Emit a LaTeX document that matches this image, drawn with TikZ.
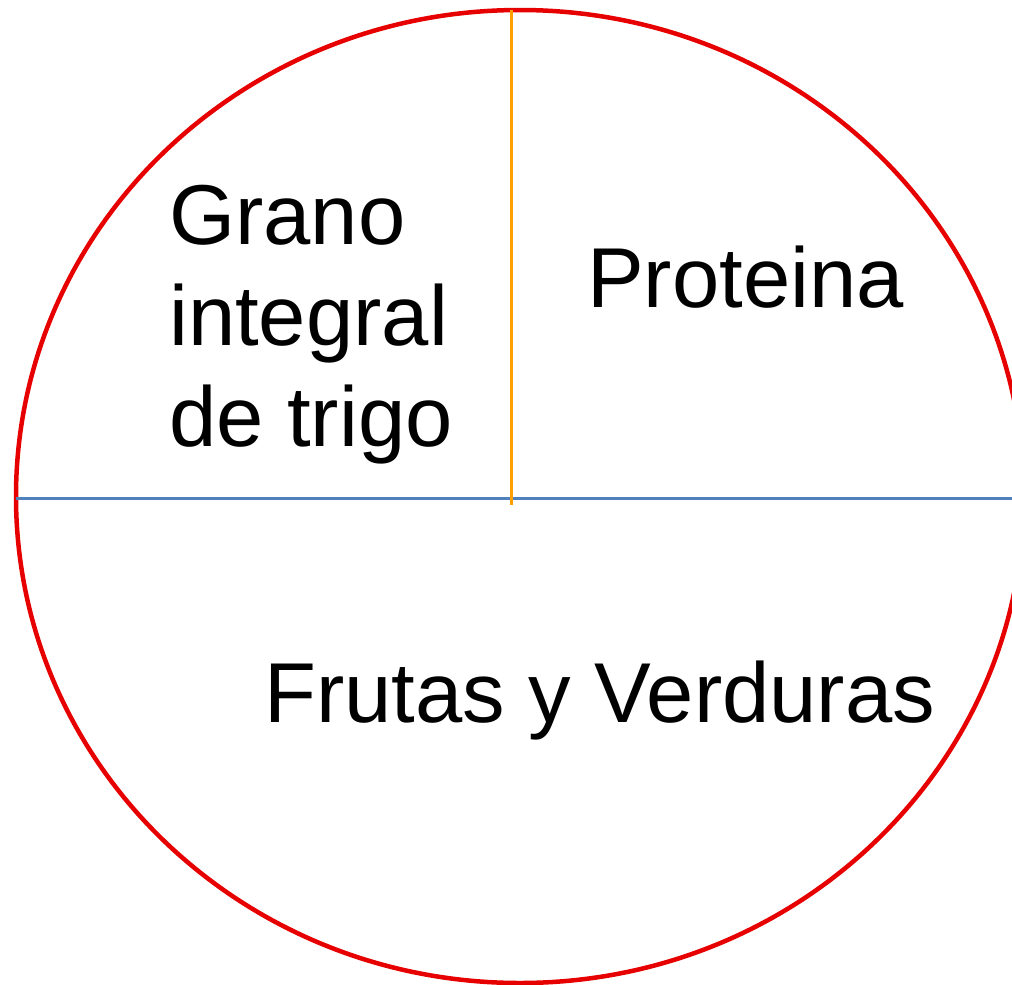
\documentclass[tikz,border=0pt]{standalone}
\usepackage{fontspec}
\setmainfont{Liberation Sans}
\definecolor{platered}{RGB}{230,0,0}
\definecolor{lineblue}{RGB}{79,129,189}
\definecolor{lineorange}{RGB}{255,160,0}
\begin{document}
\begin{tikzpicture}[x=1pt,y=1pt,
		label/.style={font=\fontsize{85}{101}\selectfont,inner sep=0pt,anchor=base west,align=left}]
				\useasboundingbox (0,0) rectangle (1012,-985);
				\coordinate (O) at (520,-496.5);
				\coordinate (L) at (16,-498);
				\coordinate (R) at (1012,-498);
				\coordinate (T) at (511.5,-10);
				\coordinate (M) at (511.5,-505);
				\draw[platered,line width=4.5pt] (O) ellipse [x radius=504,y radius=486.5];
				\draw[lineblue,line width=3pt] (L) -- (R);
				\draw[lineorange,line width=3pt] (T) -- (M);
				\node[label] (grano) at (169,-446) {Grano\\integral\\de trigo};
				\node[label] (proteina) at (587,-307) {Proteina};
				\node[label] (frutas) at (264,-722) {Frutas y Verduras};
			\end{tikzpicture}
\end{document}
